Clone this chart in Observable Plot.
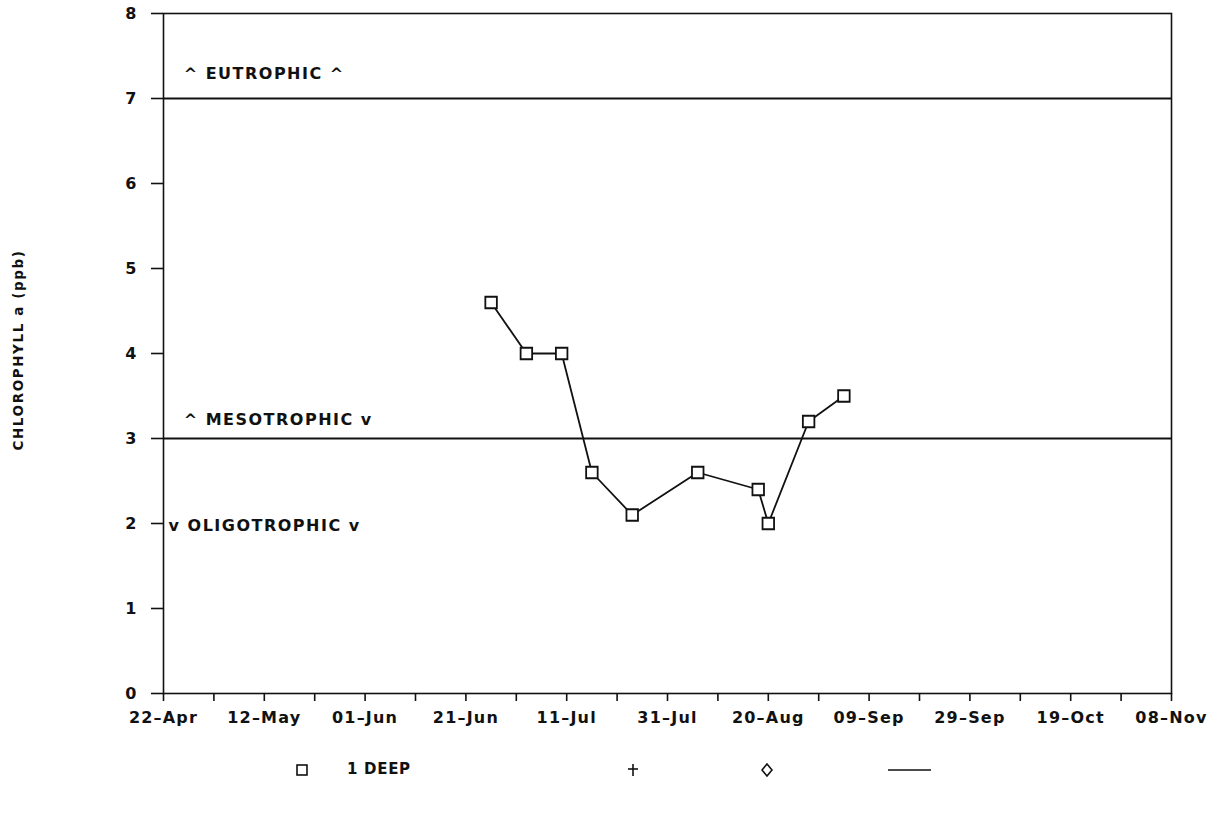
<!DOCTYPE html>
<html>
<head>
<meta charset="utf-8">
<script src="https://cdn.jsdelivr.net/npm/d3@7"></script>
<script src="https://cdn.jsdelivr.net/npm/@observablehq/plot@0.6"></script>
<style>
  html, body { margin: 0; padding: 0; background: #fff; }
  #wrap { position: relative; width: 1225px; height: 813px; font-family: "DejaVu Sans", sans-serif; font-weight: bold; color: #111; }
  #ylabel { position: absolute; left: 18px; top: 350px; transform: translate(-50%, -50%) rotate(-90deg); white-space: nowrap; font-size: 13.5px; letter-spacing: 1.6px; }
  #legend { position: absolute; left: 0; top: 760px; width: 1225px; height: 24px; font-size: 15px; letter-spacing: 0.7px; }
  #legend span { position: absolute; top: 0; white-space: nowrap; }
</style>
</head>
<body>
<div id="wrap">
  <div id="chart"></div>
  <div id="ylabel"></div>
  <div id="legend"></div>
</div>
<script>
const year = 1991;
const tickLabels = ["22-Apr", "12-May", "01-Jun", "21-Jun", "11-Jul", "31-Jul", "20-Aug", "09-Sep", "29-Sep", "19-Oct", "08-Nov"];
const yTicks = [0, 1, 2, 3, 4, 5, 6, 7, 8];
const sampleDates = ["1991-06-26", "1991-07-03", "1991-07-10", "1991-07-16", "1991-07-24", "1991-08-06", "1991-08-18", "1991-08-20", "1991-08-28", "1991-09-04"];
const chlorophyll = [4.6, 4.0, 4.0, 2.6, 2.1, 2.6, 2.4, 2.0, 3.2, 3.5];
const thresholds = [3, 7];
const zoneLabels = ["^ EUTROPHIC ^", "^ MESOTROPHIC v", "v OLIGOTROPHIC v"];
const zoneValues = [7.29, 3.22, 1.97];
const zoneDates = ["1991-04-26", "1991-04-26", "1991-04-23"];
const yLabel = "CHLOROPHYLL a (ppb)";
const legendNames = ["1 DEEP", "", "", ""];

const parseTick = d3.utcParse("%d-%b-%Y");
const majorTicks = tickLabels.map(t => parseTick(t + "-" + year));
const allTicks = [];
majorTicks.forEach((d, i) => {
  allTicks.push(d);
  if (i < majorTicks.length - 1) allTicks.push(d3.utcDay.offset(d, 10));
});
const labelMap = new Map(majorTicks.map((d, i) => [+d, tickLabels[i].replace("-", "\u2013")]));

const data = sampleDates.map((d, i) => ({date: new Date(d), value: chlorophyll[i]}));
const zones = zoneLabels.map((t, i) => ({text: t, date: new Date(zoneDates[i]), value: zoneValues[i]}));

const chart = Plot.plot({
  width: 1225,
  height: 745,
  marginTop: 13,
  marginLeft: 163,
  marginRight: 54,
  marginBottom: 52,
  style: {fontFamily: "DejaVu Sans, sans-serif", fontWeight: "bold", fontSize: "16px", color: "#111", background: "white", letterSpacing: "1.2px"},
  x: {type: "utc", domain: [majorTicks[0], majorTicks[majorTicks.length - 1]]},
  y: {domain: [0, 8]},
  marks: [
    Plot.frame({stroke: "#111", strokeWidth: 1.6}),
    Plot.ruleY(thresholds, {stroke: "#111", strokeWidth: 2}),
    Plot.axisX({ticks: allTicks, tickSize: 8, tickPadding: 10, tickFormat: d => labelMap.get(+d) ?? "", strokeWidth: 1.6, label: null}),
    Plot.axisY({ticks: yTicks, tickSize: 12, tickPadding: 14, strokeWidth: 1.6, label: null}),
    Plot.line(data, {x: "date", y: "value", stroke: "#111", strokeWidth: 1.8}),
    Plot.dot(data, {x: "date", y: "value", symbol: "square", r: 6.5, stroke: "#111", fill: "white", strokeWidth: 1.8}),
    Plot.text(zones, {x: "date", y: "value", text: "text", textAnchor: "start", fontSize: 16, fontWeight: "bold", fill: "#111"})
  ]
});
chart.querySelectorAll("text").forEach(t => {
  if (/TROPHIC/.test(t.textContent)) t.style.letterSpacing = "1.5px";
});
document.getElementById("chart").appendChild(chart);
document.getElementById("ylabel").textContent = yLabel;

const legend = document.getElementById("legend");
const items = [
  {x: 296, html: '<svg width="12" height="12" style="vertical-align:middle"><rect x="1" y="1" width="10" height="10" fill="none" stroke="#111" stroke-width="1.6"/></svg>'},
  {x: 347, html: legendNames[0]},
  {x: 627, html: '<svg width="12" height="14" style="vertical-align:middle"><line x1="6" y1="1" x2="6" y2="13" stroke="#111" stroke-width="1.6"/><line x1="1" y1="6" x2="11" y2="6" stroke="#111" stroke-width="1.6"/></svg>'},
  {x: 761, html: '<svg width="12" height="14" style="vertical-align:middle"><path d="M6 1 L11 7 L6 13 L1 7 Z" fill="none" stroke="#111" stroke-width="1.6"/></svg>'},
  {x: 888, html: '<svg width="44" height="12" style="vertical-align:middle"><line x1="0" y1="6" x2="43" y2="6" stroke="#111" stroke-width="1.6"/></svg>'}
];
items.forEach(it => {
  const s = document.createElement("span");
  s.style.left = it.x + "px";
  s.innerHTML = it.html;
  legend.appendChild(s);
});
</script>
</body>
</html>
